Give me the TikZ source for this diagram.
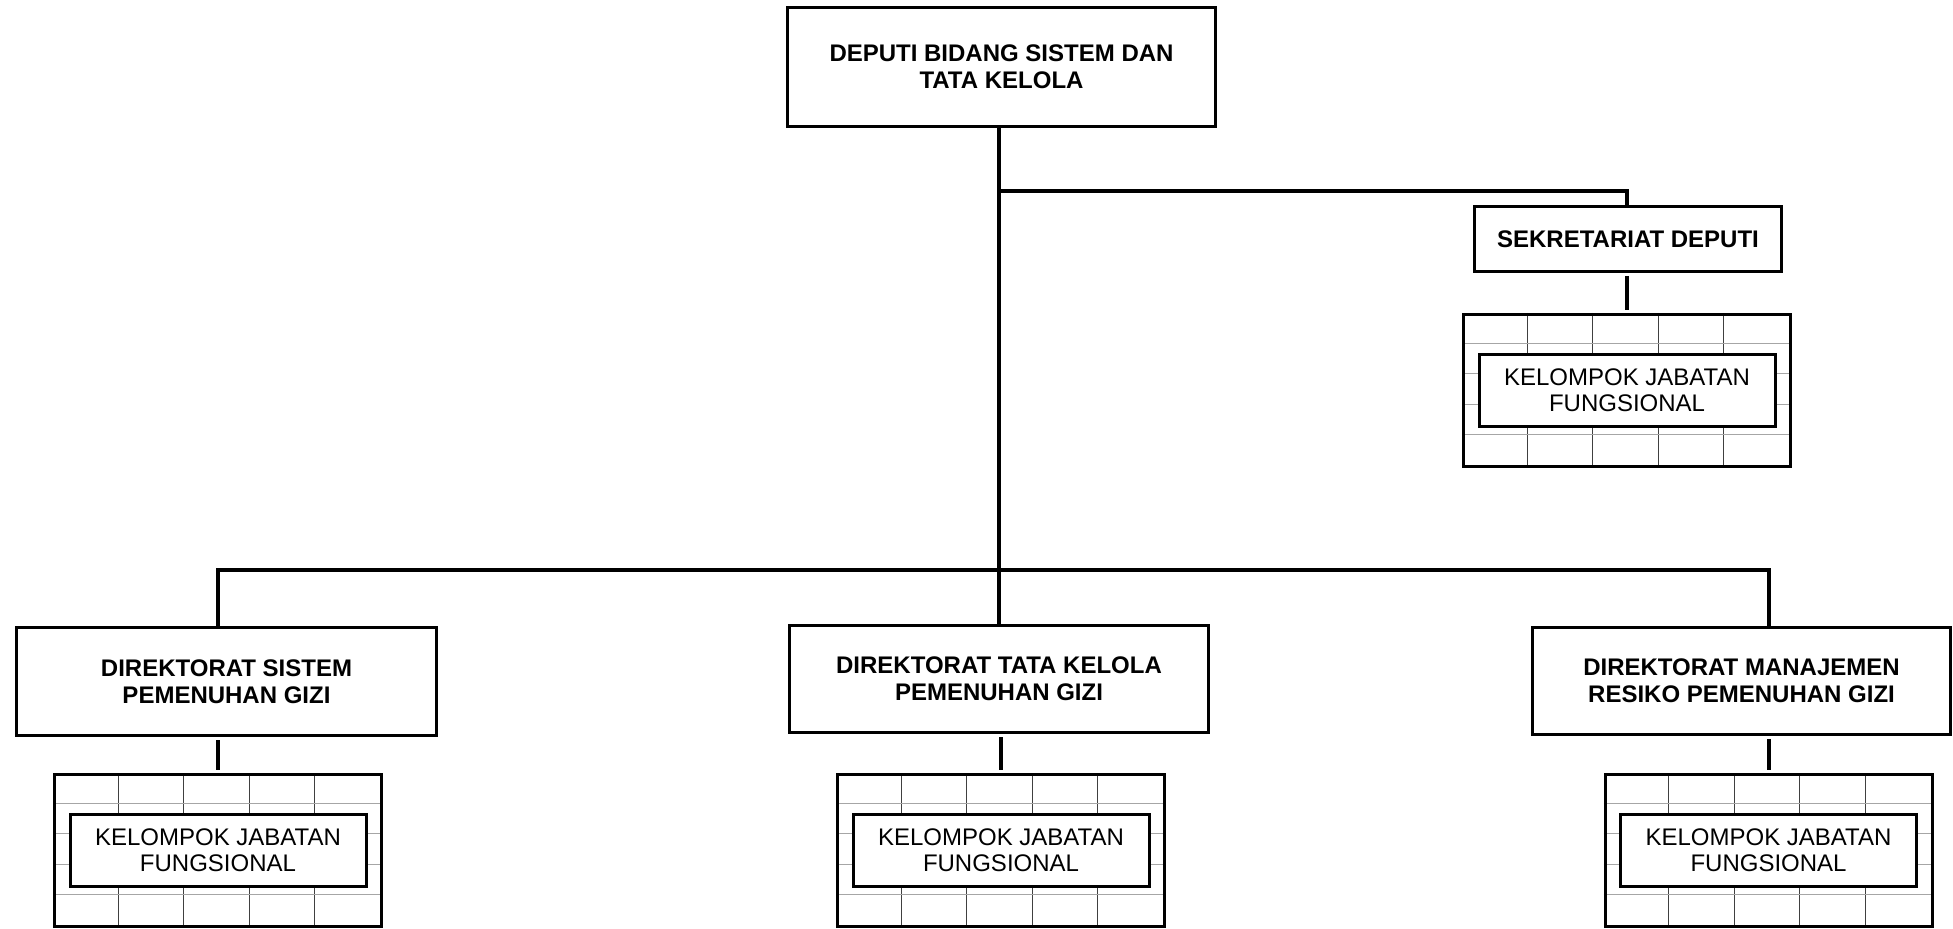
\documentclass[tikz,border=0pt]{standalone}
\usepackage{fontspec}
\setmainfont{Liberation Sans}
\usepackage{tikz}
\usetikzlibrary{calc,backgrounds}
\tikzset{
  unit/.style={
    draw=black, line width=1.5pt, fill=white, align=center,
    inner sep=2pt, font=\bfseries\fontsize{12}{13.5}\selectfont
  },
  jfgrid/.style={
    draw=black, line width=1.5pt, minimum width=163.5pt,
    minimum height=76pt, inner sep=0pt
  },
  jfbox/.style={
    draw=black, line width=1.5pt, fill=white, align=center,
    minimum width=148pt, minimum height=36pt, inner sep=1pt,
    font=\fontsize{12}{13}\selectfont
  },
  link/.style={draw=black, line width=2pt},
  stub/.style={link, shorten <=1.5pt, shorten >=1.5pt},
  gridv/.style={draw=black!75, line width=0.5pt},
  gridh/.style={draw=black!35, line width=0.5pt}
}
% functional group box with its grid
\newcommand{\kjfgroup}[2]{%
  \node[jfgrid] (#1) at (#2) {};
  \begin{scope}[on background layer]
    \foreach \c in {1,...,4}
      \draw[gridv] ($(#1.north west)+(\c*65.4,0)$) -- ($(#1.south west)+(\c*65.4,0)$);
    \foreach \r in {1,...,4}
      \draw[gridh] ($(#1.north west)+(0,\r*30.4)$) -- ($(#1.north east)+(0,\r*30.4)$);
  \end{scope}
  \node[jfbox] (#1t) at (#1) {KELOMPOK JABATAN\\FUNGSIONAL};
}
\begin{document}
\begin{tikzpicture}[x=0.5pt, y=-0.5pt]
  \useasboundingbox (0,0) rectangle (1953,929);
  \node[unit, minimum width=214pt, minimum height=59.5pt] (deputi) at (1001.5,67)
    {DEPUTI BIDANG SISTEM DAN\\TATA KELOLA};
  \node[unit, minimum width=153.5pt, minimum height=32.5pt] (sekr) at (1628,239)
    {SEKRETARIAT DEPUTI};
  \node[unit, minimum width=210pt, minimum height=54pt] (dirsis) at (226.5,681.5)
    {DIREKTORAT SISTEM\\PEMENUHAN GIZI};
  \node[unit, minimum width=209.5pt, minimum height=53.5pt] (dirtk) at (999,679)
    {DIREKTORAT TATA KELOLA\\PEMENUHAN GIZI};
  \node[unit, minimum width=209pt, minimum height=53.5pt] (dirmr) at (1741.5,681)
    {DIREKTORAT MANAJEMEN\\RESIKO PEMENUHAN GIZI};

  \kjfgroup{kjfsekr}{1627,390.5}
  \kjfgroup{kjfsis}{218,850.5}
  \kjfgroup{kjftk}{1001,850.5}
  \kjfgroup{kjfmr}{1768.5,850.5}

  % lines
  \coordinate (busy) at (0,570);
  \coordinate (sekry) at (0,191);
  \draw[link] (deputi.south -| dirtk.north) -- (dirtk.north);
  \draw[link] (sekry -| dirtk.north) -| (sekr.north -| kjfsekr.north);
  \draw[link] (dirsis.north -| kjfsis.north) |- (busy -| kjfmr.north)
    -- (dirmr.north -| kjfmr.north);
  \draw[stub] (sekr.south -| kjfsekr.north) -- (kjfsekr.north);
  \draw[stub] (dirsis.south -| kjfsis.north) -- (kjfsis.north);
  \draw[stub] (dirtk.south -| kjftk.north) -- (kjftk.north);
  \draw[stub] (dirmr.south -| kjfmr.north) -- (kjfmr.north);
\end{tikzpicture}
\end{document}
